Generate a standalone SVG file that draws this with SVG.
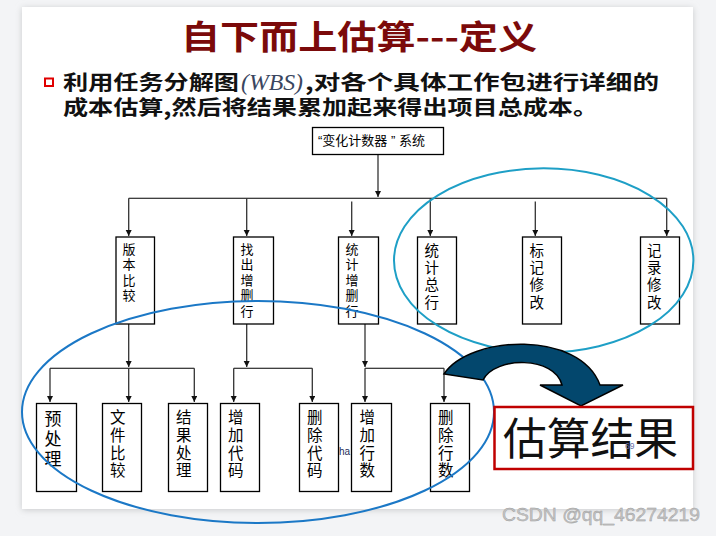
<svg xmlns="http://www.w3.org/2000/svg" width="716" height="536" viewBox="0 0 716 536">
<defs>
<filter id="sh" x="-5%" y="-5%" width="110%" height="110%"><feGaussianBlur stdDeviation="3"/></filter>
<marker id="ah" markerWidth="7" markerHeight="7" refX="6" refY="3" orient="auto" markerUnits="userSpaceOnUse"><path d="M0,0 L6,3 L0,6 z" fill="#111"/></marker>
<style>
.box{fill:#fff;stroke:#000;stroke-width:1.3}
.c{fill:none;stroke:#333;stroke-width:1.3}
.h{fill:none;stroke:#000;stroke-width:1.1}
.cjk{font-family:"Liberation Sans","Noto Sans CJK SC",sans-serif;fill:#000}
.m1{font-size:13px}
.m2{font-size:14.5px}
.b1{font-size:15.5px}
.hd{font-family:"Noto Sans CJK SC",sans-serif;font-weight:bold}
</style>
</defs>
<rect width="716" height="536" fill="#f3f4f6"/>
<rect x="22" y="8" width="671" height="502" fill="#c9cacc" filter="url(#sh)"/>
<rect x="22" y="7" width="671" height="502" fill="#fff"/>

<text x="181" y="49" class="hd" font-size="33" fill="#7b0a0a" textLength="356" lengthAdjust="spacingAndGlyphs">自下而上估算---定义</text>
<rect x="45" y="78.5" width="8" height="7.5" fill="#fff" stroke="#e00000" stroke-width="2"/>
<text x="63" y="90" class="hd" font-size="20" fill="#111" textLength="176" lengthAdjust="spacingAndGlyphs">利用任务分解图</text>
<text x="241" y="90" font-family="Liberation Serif,serif" font-style="italic" font-size="23" fill="#3a4660" textLength="62" lengthAdjust="spacingAndGlyphs">(WBS)</text>
<text x="305" y="90" class="hd" font-size="20" fill="#111" textLength="354" lengthAdjust="spacingAndGlyphs">,对各个具体工作包进行详细的</text>
<text x="63" y="115" class="hd" font-size="20" fill="#111" textLength="535" lengthAdjust="spacingAndGlyphs">成本估算,然后将结果累加起来得出项目总成本。</text>

<g id="connectors">
<path class="c" d="M378,154 V197" marker-end="url(#ah)"/>
<path class="h" d="M128.7,198.3 H666.7"/>
<path class="c" d="M128.7,198.3 V236" marker-end="url(#ah)"/>
<path class="c" d="M246.7,198.3 V236" marker-end="url(#ah)"/>
<path class="c" d="M351.7,201.5 V236" marker-end="url(#ah)"/>
<path class="c" d="M430.3,198.3 V236" marker-end="url(#ah)"/>
<path class="c" d="M535.3,201.5 V236" marker-end="url(#ah)"/>
<path class="c" d="M666.7,198.3 V236" marker-end="url(#ah)"/>
<path class="c" d="M128.7,324 V367" marker-end="url(#ah)"/>
<path class="h" d="M50,368.3 H194.3"/>
<path class="c" d="M50,368.3 V402" marker-end="url(#ah)"/>
<path class="c" d="M128.7,368.3 V402" marker-end="url(#ah)"/>
<path class="c" d="M194.3,368.3 V402" marker-end="url(#ah)"/>
<path class="c" d="M246.7,324 V367" marker-end="url(#ah)"/>
<path class="h" d="M233.7,368.3 H312.3"/>
<path class="c" d="M233.7,368.3 V402" marker-end="url(#ah)"/>
<path class="c" d="M312.3,368.3 V402" marker-end="url(#ah)"/>
<path class="c" d="M365,324 V367" marker-end="url(#ah)"/>
<path class="h" d="M365,368.3 H444"/>
<path class="c" d="M365,368.3 V402" marker-end="url(#ah)"/>
<path class="c" d="M444,368.3 V402" marker-end="url(#ah)"/>
</g>

<g id="root"><rect class="box" x="312.5" y="127.5" width="131" height="27"/>
<text x="318" y="145" class="cjk m1">“变化计数器 ” 系统</text></g>

<g id="n-bbbj"><rect class="box" x="116" y="237" width="38.5" height="87"/>
<text class="cjk m1" x="122.5" y="253.5">版<tspan x="122.5" dy="15.5">本</tspan><tspan x="122.5" dy="15.5">比</tspan><tspan x="122.5" dy="15.5">较</tspan></text></g>
<g id="n-zczsh"><rect class="box" x="233.5" y="237" width="40" height="87"/>
<text class="cjk m1" x="240.5" y="253.5">找<tspan x="240.5" dy="15.5">出</tspan><tspan x="240.5" dy="15.5">增</tspan><tspan x="240.5" dy="15.5">删</tspan><tspan x="240.5" dy="15.5">行</tspan></text></g>
<g id="n-tjzsh"><rect class="box" x="338.5" y="237" width="40" height="87"/>
<text class="cjk m1" x="345.5" y="253.5">统<tspan x="345.5" dy="15.5">计</tspan><tspan x="345.5" dy="15.5">增</tspan><tspan x="345.5" dy="15.5">删</tspan><tspan x="345.5" dy="15.5">行</tspan></text></g>
<g id="n-tjzh"><rect class="box" x="417.5" y="237" width="39" height="87"/>
<text class="cjk m2" x="424.5" y="256">统<tspan x="424.5" dy="17.2">计</tspan><tspan x="424.5" dy="17.2">总</tspan><tspan x="424.5" dy="17.2">行</tspan></text></g>
<g id="n-bjxg"><rect class="box" x="522.5" y="237" width="39" height="87"/>
<text class="cjk m2" x="529.5" y="256">标<tspan x="529.5" dy="17.2">记</tspan><tspan x="529.5" dy="17.2">修</tspan><tspan x="529.5" dy="17.2">改</tspan></text></g>
<g id="n-jlxg"><rect class="box" x="640.5" y="237" width="39" height="87"/>
<text class="cjk m2" x="647" y="256">记<tspan x="647" dy="17.2">录</tspan><tspan x="647" dy="17.2">修</tspan><tspan x="647" dy="17.2">改</tspan></text></g>

<g id="n-ycl"><rect class="box" x="36.5" y="403.5" width="40" height="88"/>
<text class="cjk" font-size="17" x="44.5" y="424.5">预<tspan x="44.5" dy="20">处</tspan><tspan x="44.5" dy="20">理</tspan></text></g>
<g id="n-wjbj"><rect class="box" x="102.5" y="403.5" width="39" height="88"/>
<text class="cjk b1" x="110" y="423">文<tspan x="110" dy="17.8">件</tspan><tspan x="110" dy="17.8">比</tspan><tspan x="110" dy="17.8">较</tspan></text></g>
<g id="n-jgcl"><rect class="box" x="168.5" y="403.5" width="39" height="88"/>
<text class="cjk b1" x="176" y="423">结<tspan x="176" dy="17.8">果</tspan><tspan x="176" dy="17.8">处</tspan><tspan x="176" dy="17.8">理</tspan></text></g>
<g id="n-zjdm"><rect class="box" x="220.5" y="403.5" width="39" height="88"/>
<text class="cjk b1" x="228" y="423">增<tspan x="228" dy="17.8">加</tspan><tspan x="228" dy="17.8">代</tspan><tspan x="228" dy="17.8">码</tspan></text></g>
<g id="n-scdm"><rect class="box" x="299.5" y="403.5" width="39" height="88"/>
<text class="cjk b1" x="307" y="423">删<tspan x="307" dy="17.8">除</tspan><tspan x="307" dy="17.8">代</tspan><tspan x="307" dy="17.8">码</tspan></text></g>
<text x="339" y="455" font-family="Liberation Sans,sans-serif" font-size="10" fill="#1f2f5a">ha</text>
<g id="n-zjhs"><rect class="box" x="351.5" y="403.5" width="40" height="88"/>
<text class="cjk b1" x="359.5" y="423">增<tspan x="359.5" dy="17.8">加</tspan><tspan x="359.5" dy="17.8">行</tspan><tspan x="359.5" dy="17.8">数</tspan></text></g>
<g id="n-schs"><rect class="box" x="430.5" y="403.5" width="39" height="88"/>
<text class="cjk b1" x="438" y="423">删<tspan x="438" dy="17.8">除</tspan><tspan x="438" dy="17.8">行</tspan><tspan x="438" dy="17.8">数</tspan></text></g>

<ellipse cx="258" cy="412" rx="236" ry="111" fill="none" stroke="#1b78c6" stroke-width="2"/>
<ellipse cx="543.7" cy="260.5" rx="149.7" ry="92.2" fill="none" stroke="#1e9fc6" stroke-width="2"/>

<path d="M444,374 C470,335 580,330 600,385 L623,385 L581,406 L540,385 L562,385 C555,356 495,356 483,380 Z" fill="#03476d" stroke="#000" stroke-width="1.5" stroke-linejoin="miter"/>

<g id="result"><rect x="494.5" y="407" width="198.5" height="62" fill="#fff" stroke="#c00000" stroke-width="2.5"/>
<text x="503" y="455" font-family="Noto Sans CJK SC,sans-serif" font-size="44" fill="#111" textLength="175" lengthAdjust="spacingAndGlyphs">估算结果</text>
<text x="625" y="448.5" font-family="Liberation Sans,sans-serif" font-size="8.5" fill="#6a6fa8">69</text></g>

<text x="502" y="521" font-family="Liberation Sans,sans-serif" font-size="19" fill="#c4c4c4" stroke="#9a9a9a" stroke-width="0.4" textLength="198" lengthAdjust="spacingAndGlyphs">CSDN @qq_46274219</text>
</svg>
